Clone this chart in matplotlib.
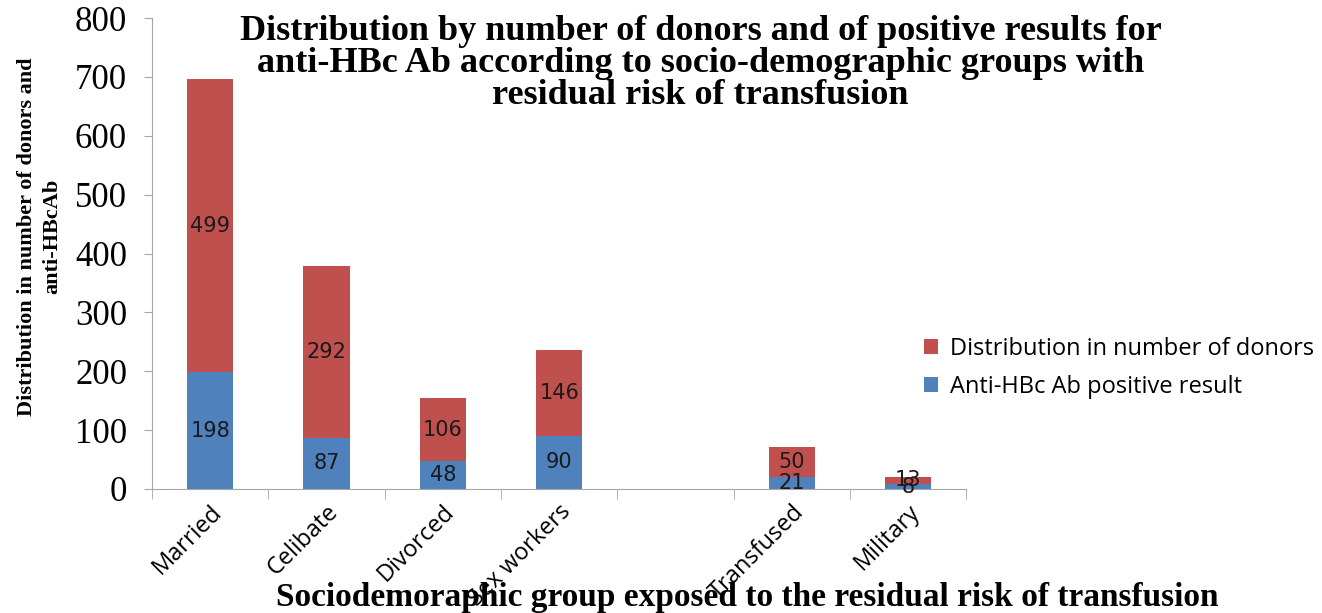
import matplotlib.pyplot as plt
import numpy as np

categories = ['Married', 'Celibate', 'Divorced', 'Sex workers', '', 'Transfused', 'Military']
positive = [198, 87, 48, 90, None, 21, 8]
donors = [499, 292, 106, 146, None, 50, 13]
yticks = [0, 100, 200, 300, 400, 500, 600, 700, 800]

blue = '#4F81BD'
red = '#C0504D'
grey = '#A6A6A6'

fig = plt.figure(figsize=(13.22, 6.13), dpi=100)
ax = fig.add_axes([0.115, 0.2023, 0.616, 0.7683])

x = np.arange(len(categories))
pos = np.array([v if v is not None else np.nan for v in positive], dtype=float)
don = np.array([v if v is not None else np.nan for v in donors], dtype=float)

ax.bar(x, pos, width=0.4, color=blue, label='Anti-HBc Ab positive result')
ax.bar(x, don, width=0.4, bottom=pos, color=red, label='Distribution in number of donors')

for i in range(len(categories)):
    if np.isnan(pos[i]):
        continue
    ax.text(x[i], pos[i] / 2, str(int(pos[i])), ha='center', va='center',
            fontsize=15, family='DejaVu Sans', color='#1a1a1a')
    ax.text(x[i], pos[i] + don[i] / 2, str(int(don[i])), ha='center', va='center',
            fontsize=15, family='DejaVu Sans', color='#1a1a1a')

ax.set_xlim(-0.5, len(categories) - 0.5)
ax.set_ylim(0, 800)
ax.set_yticks(yticks)
ax.set_yticklabels([str(t) for t in yticks], family='Liberation Serif', fontsize=25)

ax.set_xticks(x)
ax.set_xticklabels(categories, rotation=45, ha='right', rotation_mode='anchor',
                   family='Open Sans', fontsize=17)
ax.set_xticks(np.arange(-0.5, len(categories)), minor=True)
ax.tick_params(axis='x', which='major', length=0, pad=8)
ax.tick_params(axis='x', which='minor', length=7, color=grey, direction='out')
ax.tick_params(axis='y', length=6, color=grey, direction='out', pad=12)

for s in ['top', 'right']:
    ax.spines[s].set_visible(False)
for s in ['left', 'bottom']:
    ax.spines[s].set_color(grey)

ax.set_ylabel('Distribution in number of donors and\nanti-HBcAb', family='Liberation Serif',
              fontweight='bold', fontsize=16, linespacing=1.35)
ax.yaxis.set_label_coords(-0.11, 0.536)

fig.text(0.53, 0.975, 'Distribution by number of donors and of positive results for\n'
         'anti-HBc Ab according to socio-demographic groups with\n'
         'residual risk of transfusion', ha='center', va='top',
         family='Liberation Serif', fontweight='bold', fontsize=26, linespacing=0.95)

fig.text(0.565, 0.026, 'Sociodemoraphic group exposed to the residual risk of transfusion',
         ha='center', va='center', family='Liberation Serif', fontweight='bold', fontsize=24)

handles, labels = ax.get_legend_handles_labels()
fig.legend(handles[::-1], labels[::-1], loc='center left', bbox_to_anchor=(0.683, 0.40),
           frameon=False, prop={'family': 'Open Sans', 'size': 17}, handlelength=0.6,
           handleheight=0.6, handletextpad=0.5, labelspacing=0.6)

fig.savefig('out.png', dpi=100)
